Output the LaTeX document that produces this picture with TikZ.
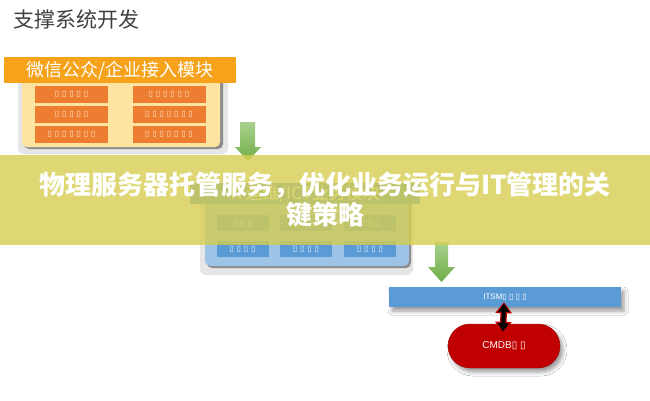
\documentclass[tikz,border=0pt]{standalone}
\usepackage{fontspec}
\newfontfamily\cjk{Noto Sans CJK SC}
\newfontfamily\dejavu{DejaVu Sans}
\newfontfamily\arialike{Liberation Sans}
\usetikzlibrary{shadows.blur,arrows.meta}
\definecolor{orangehd}{HTML}{F6A31B}
\definecolor{orangecell}{HTML}{ED7D31}
\definecolor{beige}{HTML}{FFE3A0}
\definecolor{panelgray}{HTML}{E6E6E6}
\definecolor{edgegray}{HTML}{8C8C8C}
\definecolor{bluecell}{HTML}{5B9BD5}
\definecolor{bluepanel}{HTML}{9DC3E6}
\definecolor{greenarrow}{HTML}{70AD47}
\definecolor{greenlight}{HTML}{A9D18E}
\definecolor{bannercol}{RGB}{214,206,80}
\definecolor{cmdbred}{HTML}{C00000}
\definecolor{titlegray}{HTML}{404040}
\newcommand\tofu{{\dejavu\char"25AF}}
\tikzset{
  ocell/.style={fill=orangecell, draw=none, minimum width=73pt, minimum height=17pt, inner sep=0pt, text=orange!20, font=\fontsize{8}{9}\selectfont},
  bcell/.style={fill=bluecell, draw=none, minimum width=52pt, minimum height=16pt, inner sep=0pt, text=white!85!bluecell, font=\fontsize{8}{9}\selectfont},
  blockarrow/.style={top color=greenlight, bottom color=greenarrow, draw=none},
}
\begin{document}
\begin{tikzpicture}[x=1pt,y=-1pt]
\useasboundingbox (0,0) rectangle (650,400);
\fill[white] (0,0) rectangle (650,400);

% title
\node[anchor=west, inner sep=0pt, text=titlegray, font=\cjk\fontsize{21}{25}\selectfont] (title) at (13,20) {支撑系统开发};

% top module
\fill[panelgray, rounded corners=6pt] (18,76) rectangle (228,154);
\fill[edgegray, rounded corners=5pt] (24,78) rectangle (223,149);
\fill[beige, rounded corners=5pt] (22,76) rectangle (220,147);
\node[fill=orangehd, minimum width=232pt, minimum height=26pt, inner sep=0pt, text=white, font=\cjk\fontsize{18}{20}\selectfont] (wx) at (120,70) {微信公众/企业接入模块};
\node[ocell] (o11) at (71.5,94.5) {\tofu\ \tofu\ \tofu\ \tofu\ \tofu};
\node[ocell] (o12) at (169,94.5) {\tofu\ \tofu\ \tofu\ \tofu\ \tofu\ \tofu};
\node[ocell] (o21) at (71.5,114) {\tofu\ \tofu\ \tofu\ \tofu\ \tofu};
\node[ocell] (o22) at (169,114) {\tofu\ \tofu\ \tofu\ \tofu\ \tofu\ \tofu\ \tofu};
\node[ocell] (o31) at (71.5,134) {\tofu\ \tofu\ \tofu\ \tofu\ \tofu\ \tofu\ \tofu};
\node[ocell] (o32) at (169,134) {\tofu\ \tofu\ \tofu\ \tofu\ \tofu\ \tofu\ \tofu};

% green arrow 1
\path[blockarrow] (240,122) -- (255,122) -- (255,147) -- (261,147) -- (248,161) -- (235,147) -- (240,147) -- cycle;

% middle module
\fill[panelgray, rounded corners=6pt] (200,190) rectangle (413,275);
\fill[edgegray, rounded corners=5pt] (207,196) rectangle (411,268);
\fill[bluepanel, rounded corners=5pt] (205,194) rectangle (409,266);
\node[fill=bluecell, minimum width=230pt, minimum height=21pt, inner sep=0pt, text=white, font=\cjk\fontsize{17}{19}\selectfont] (it) at (305,193.5) {IT运维/ICT业务模块};
\node[bcell] (b11) at (242.5,223) {\tofu\ \tofu\ \tofu};
\node[bcell] (b12) at (306,223) {\tofu\ \tofu\ \tofu};
\node[bcell] (b13) at (370,223) {\tofu\ \tofu\ \tofu};
\node[bcell] (b21) at (242.5,249) {\tofu\ \tofu\ \tofu\ \tofu};
\node[bcell] (b22) at (306,249) {\tofu\ \tofu\ \tofu\ \tofu};
\node[bcell] (b23) at (370,249) {\tofu\ \tofu\ \tofu\ \tofu};

% green arrow 2
\path[blockarrow] (435,242) -- (448,242) -- (448,267) -- (455,267) -- (441.5,282) -- (428,267) -- (435,267) -- cycle;

% ITSM bar
\node[fill=bluecell, minimum width=232pt, minimum height=20pt, inner sep=0pt, text=white, font=\arialike\fontsize{8}{9}\selectfont, blur shadow={shadow xshift=3pt, shadow yshift=-4pt, shadow blur radius=4pt}] (itsm) at (505,297) {ITSM\tofu\ \tofu\ \tofu\ \tofu};

% CMDB pill
\node[fill=cmdbred, draw=cmdbred!80!black, rounded corners=22pt, minimum width=112pt, minimum height=44pt, inner sep=0pt, text=white, font=\arialike\fontsize{10}{12}\selectfont, blur shadow={shadow xshift=3pt, shadow yshift=-4pt, shadow blur radius=4pt}] (cmdb) at (504,346) {CMDB\tofu\ \tofu};

% double arrow
\coordinate (da1) at ([xshift=-1pt,yshift=5pt]itsm.south);
\coordinate (da2) at ([xshift=-1pt,yshift=-9pt]cmdb.north);
\draw[cmdbred, line width=6.5pt, {Triangle[width=16pt,length=11pt]}-{Triangle[width=16pt,length=11pt]}] (da1) -- (da2);
\draw[black, line width=4pt, shorten <=1.5pt, shorten >=1.5pt, {Triangle[width=11pt,length=8pt]}-{Triangle[width=11pt,length=8pt]}] (da1) -- (da2);

% banner overlay
\fill[bannercol, opacity=0.8] (0,155) rectangle (650,245);
\node[align=center, text=white, font=\cjk\bfseries\fontsize{26}{30}\selectfont, inner sep=0pt] (banner) at (325,200) {物理服务器托管服务，优化业务运行与IT管理的关\\键策略};
\end{tikzpicture}
\end{document}
